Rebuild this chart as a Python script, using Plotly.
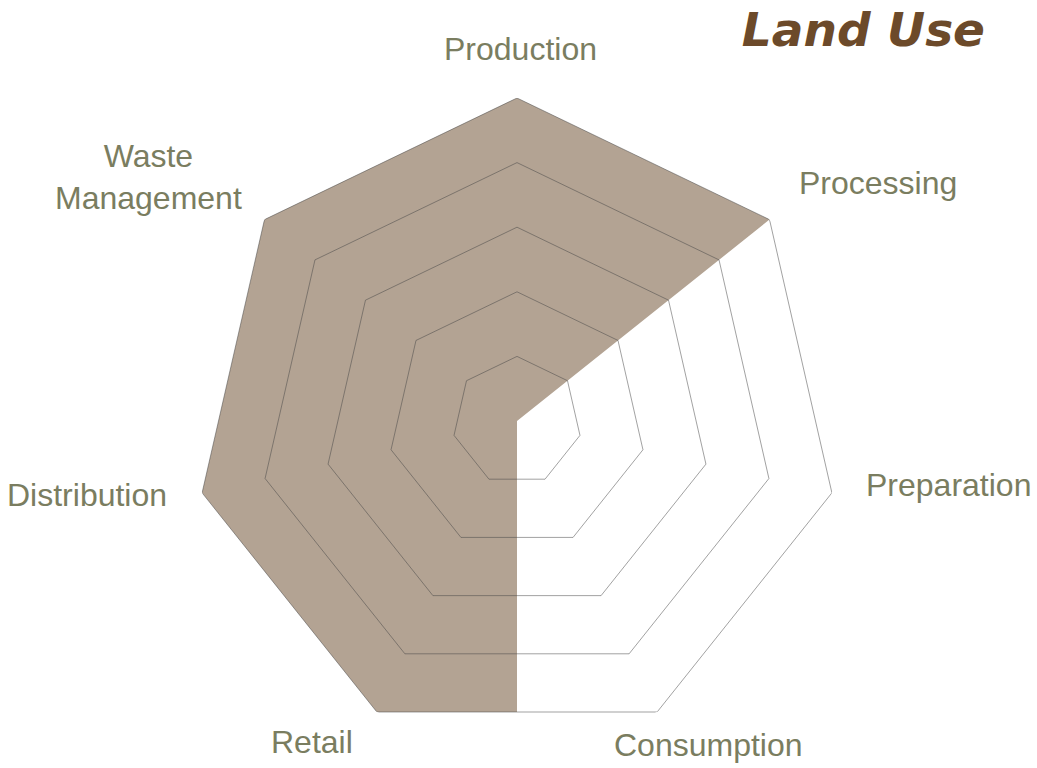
import math
import plotly.graph_objects as go

# Stages of the food chain, clockwise from the top
categories = ["Production", "Processing", "Preparation", "Consumption",
              "Retail", "Distribution", "Waste<br>Management"]
scores = [5, 5, 0, 0, 5, 5, 5]
ring_levels = [1, 2, 3, 4, 5]
score_max = 5

n = len(categories)
step = 360 / n
angles = [i * step for i in range(n)]

# Shaded region: each stage's score, closed between Consumption and Retail
# by a straight drop from the centre to the outer ring's edge
mid_theta = (angles[3] + angles[4]) / 2
edge_r = score_max * math.cos(math.pi / n)
fill_theta = angles[:4] + [mid_theta] + angles[4:]
fill_r = scores[:4] + [edge_r] + scores[4:]

FILL = "#b3a393"
GRID = "rgba(70,70,70,0.5)"
LABEL = "#7a7d60"
TITLE = "#6c4a2a"

W, H = 1037, 768
cx, cy, R = 517, 421, 323

# Centre of each stage name around the wheel (pixels from the top-left)
label_xy = [(520, 49), (878, 183), (948, 485), (708, 745),
            (312, 742), (87, 495), (148, 177)]

fig = go.Figure()

fig.add_trace(go.Scatterpolar(
    theta=fill_theta + [fill_theta[0]],
    r=fill_r + [fill_r[0]],
    mode="lines",
    fill="toself",
    fillcolor=FILL,
    line=dict(color="rgba(0,0,0,0)", width=0),
    hoverinfo="skip",
    showlegend=False,
))

# Heptagonal grid rings
for lvl in ring_levels:
    fig.add_trace(go.Scatterpolar(
        theta=angles + [angles[0]],
        r=[lvl] * (n + 1),
        mode="lines",
        line=dict(color=GRID, width=1),
        hoverinfo="skip",
        showlegend=False,
    ))

for name, (lx, ly) in zip(categories, label_xy):
    fig.add_annotation(
        text=name,
        x=lx / W, y=1 - ly / H,
        xref="paper", yref="paper",
        xanchor="center", yanchor="middle",
        align="center",
        showarrow=False,
        font=dict(family="Liberation Sans, Arial, sans-serif", size=32, color=LABEL),
    )

fig.update_layout(
    width=W,
    height=H,
    margin=dict(l=0, r=0, t=0, b=0),
    paper_bgcolor="white",
    plot_bgcolor="white",
    showlegend=False,
    title=dict(
        text="Land Use",
        x=985 / W, xanchor="right", xref="paper",
        y=1 - 30 / H, yanchor="middle", yref="container",
        font=dict(family="DejaVu Sans", size=47, color=TITLE,
                  weight="bold", style="italic"),
    ),
    polar=dict(
        domain=dict(x=[(cx - R) / W, (cx + R) / W],
                    y=[1 - (cy + R) / H, 1 - (cy - R) / H]),
        bgcolor="rgba(0,0,0,0)",
        radialaxis=dict(range=[0, score_max], visible=False),
        angularaxis=dict(
            rotation=90,
            direction="clockwise",
            showgrid=False,
            showline=False,
            showticklabels=False,
            ticks="",
        ),
    ),
)

fig.write_html("out.html")
